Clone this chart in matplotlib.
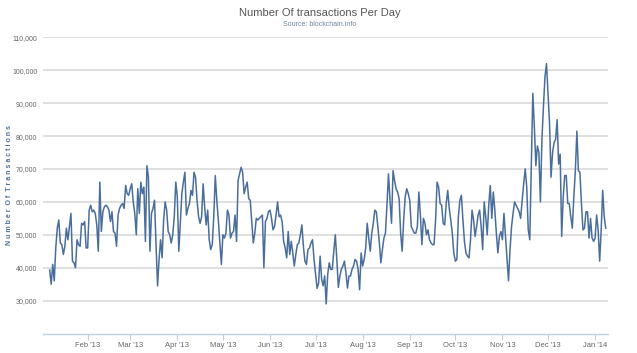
import numpy as np
import pandas as pd
import matplotlib
matplotlib.use('Agg')
import matplotlib.pyplot as plt

# daily transaction counts (thousands)
jan13 = [39.3, 35, 41, 36, 46, 52, 54.5, 47.5, 47, 44, 46.5, 52, 48.5, 52.5, 56.5,
         42, 41.5, 40, 48.5, 47, 46.5, 53.5, 53, 54, 46]
feb13 = [46, 57.5, 59, 57, 57.5, 56.5, 53, 45, 66, 51, 57, 58.5, 59, 58.5, 57.5,
         54, 57, 51, 50.5, 46.5, 56, 58, 59, 59.5, 58, 65, 62.5, 62]
mar13 = [64, 65.5, 60, 56.5, 50, 64, 56.5, 66, 62.5, 64.5, 48, 71, 67.5, 45, 56.5,
         58, 60.5, 47, 34.5, 42.5, 48.5, 43, 54.5, 60, 57.5, 51, 50, 47.5, 50, 55.5, 66]
apr13 = [61.5, 45, 54, 62.5, 66, 69, 56, 58, 59.5, 63.5, 62, 69, 67.5, 60.5, 55.5,
         53.5, 55.5, 65.5, 58.5, 53, 57.5, 48.5, 45.5, 47, 55.5, 68, 60.5, 54.5, 47.5, 41]
may13 = [50, 49, 50.5, 57.5, 56, 49, 50.5, 51, 56, 48, 66.5, 68.5, 70.5, 69, 62.5,
         64.5, 66, 61, 60.5, 54, 47.5, 50.5, 55, 54.5, 55, 55.5, 56, 40, 54, 55, 57]
jun13 = [57.5, 55, 51.5, 52.5, 56, 60, 55.5, 56, 54, 48, 46, 43, 51, 44, 48,
         44.5, 40.5, 44, 47, 47.5, 50, 53, 46.5, 42, 41, 45.5, 46, 47.5, 48.5, 42.5]
jul13 = [38, 33.7, 35.3, 43.5, 36.5, 34.5, 37.5, 29, 38, 41.5, 39.5, 39.5, 45, 50, 42.5,
         34, 37.5, 39.5, 40.5, 42, 38.5, 33.8, 37.5, 37.5, 39.5, 40.5, 42.5, 42, 39.5, 33.3, 44.5]
aug13 = [40.5, 42.5, 46, 53.5, 49, 45, 50.5, 53.5, 57.5, 57, 52.5, 47.5, 41.5, 45.5, 49,
         50.5, 59, 68.5, 60.5, 53.5, 69.5, 66.5, 64, 63, 61, 50.5, 45, 54.5, 61.5, 64, 62.5]
sep13 = [60.5, 52.5, 51.5, 50.5, 50.5, 52.5, 63, 56, 47, 55, 53.5, 50, 51.5, 48.5, 47.5,
         47, 47, 54.5, 66, 64.5, 59.5, 59, 53.5, 53, 59.5, 63.5, 58, 54.5, 50.5, 44.5]
oct13 = [42, 42.5, 55.5, 60.5, 62, 54.5, 48, 44.5, 43.5, 43, 48.5, 57.5, 54.5, 49.5, 52.5,
         56, 57.5, 52.5, 45.5, 60, 55.5, 50, 59, 65, 55, 63, 57.5, 50.5, 44.5, 49.5, 51]
nov13 = [48.5, 56.5, 49.5, 43, 36, 45.5, 52.5, 56.5, 60, 59, 58, 57, 55, 60.5, 65.5,
         70, 64.5, 51.5, 48.5, 70.5, 93, 83, 71, 77, 75, 60, 79, 89, 98, 102]
dec13 = [93, 84, 67.5, 75, 78, 79, 85, 71.5, 74.5, 49.5, 61.5, 68, 68, 59.5, 59.5,
         55.5, 52, 61.5, 69.5, 81.5, 69.5, 69, 59.5, 51.5, 52, 57, 57, 49, 55, 49, 48]
jan14 = [49, 56, 51.5, 42, 51.5, 63.5, 55.5, 52]

first_day = '2013-01-07'
y_ticks = [30000, 40000, 50000, 60000, 70000, 80000, 90000, 100000, 110000]

values = np.array(jan13 + feb13 + mar13 + apr13 + may13 + jun13 + jul13 +
                  aug13 + sep13 + oct13 + nov13 + dec13 + jan14) * 1000
days = pd.date_range(first_day, periods=len(values), freq='D')

plt.rcParams['font.family'] = ['Liberation Sans Narrow', 'Liberation Sans', 'DejaVu Sans']

fig = plt.figure(figsize=(6.37, 3.53), dpi=100)
ax = fig.add_axes([0.0675, 0.0552, 0.887, 0.839])

ax.plot(days, values, color='#4a6e9c', linewidth=1.1, solid_joinstyle='round')

# axes limits and ticks
x0 = pd.Timestamp('2013-01-01')
ax.set_xlim(x0 + pd.Timedelta(days=1.6), x0 + pd.Timedelta(days=373.5))
ax.set_ylim(20000, 110000)
ax.set_yticks(y_ticks)
ax.set_yticklabels(['{:,}'.format(v) for v in y_ticks], fontsize=5, color='#666666')
ticks = list(pd.date_range('2013-02-01', '2014-01-01', freq='MS'))
ax.set_xticks(ticks)
ax.set_xticklabels([t.strftime("%b '%y") for t in ticks], fontsize=5.5, color='#666666')

# grid
ax.yaxis.grid(True, color='#d9d9d9', linewidth=1.2)
ax.set_axisbelow(True)
ax.tick_params(axis='y', length=0, pad=4)
ax.tick_params(axis='x', length=4, width=0.8, color='#c0d0e0', pad=2)

for side in ['top', 'right', 'left']:
    ax.spines[side].set_visible(False)
ax.spines['bottom'].set_color('#c0d0e0')
ax.spines['bottom'].set_linewidth(1.0)

# y-axis title placed in figure coords so it isn't clipped
fig.text(10 / 637, 1 - 185 / 353, 'N u m b e r  O f  T r a n s a c t i o n s',
         rotation=90, ha='center', va='center', fontsize=5, color='#4d6f94',
         fontweight='bold')

fig.text(0.502, 0.963, 'Number Of transactions Per Day', ha='center', va='center',
         fontsize=8, color='#555555')
fig.text(0.502, 0.93, 'Source: blockchain.info', ha='center', va='center',
         fontsize=5, color='#6d869f')

fig.savefig('out.png', dpi=100)
